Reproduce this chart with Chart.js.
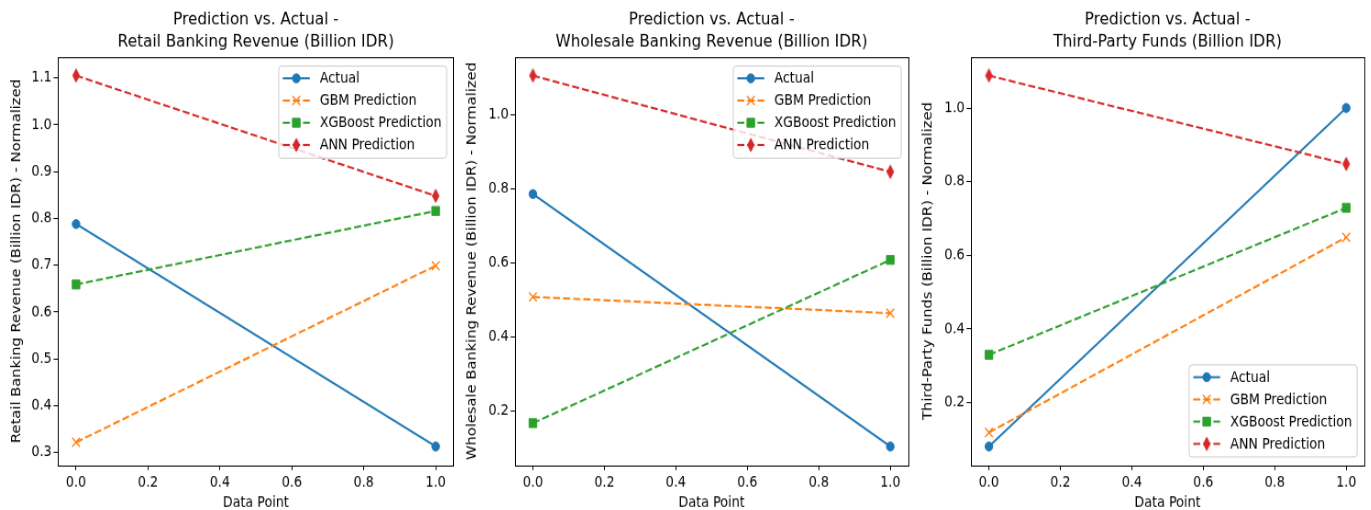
<!DOCTYPE html>
<html><head><meta charset="utf-8">
<script src="https://cdn.jsdelivr.net/npm/chart.js@4.4.1/dist/chart.umd.min.js"></script>
<style>
html,body{margin:0;padding:0;background:#fff;}
#wrap{position:relative;width:1371px;height:510px;overflow:hidden;}
.panel{position:absolute;top:0;height:482px;transform-origin:0 0;transform:scale(0.917,1.058);}
canvas{display:block;}
</style></head><body>
<div id="wrap">
<div class="panel" style="left:0px;width:502px"><canvas id="c1" width="502" height="482"></canvas></div>
<div class="panel" style="left:460px;width:496px"><canvas id="c2" width="496" height="482"></canvas></div>
<div class="panel" style="left:915px;width:497px"><canvas id="c3" width="497" height="482"></canvas></div>
</div>
<script>
// ---- data ----
const dataPoints = [0, 1];
const xTicks = [0, 0.2, 0.4, 0.6, 0.8, 1.0];
const seriesNames = ['Actual', 'GBM Prediction', 'XGBoost Prediction', 'ANN Prediction'];

const retailActual = [0.788, 0.313];
const retailGBM = [0.322, 0.699];
const retailXGB = [0.659, 0.816];
const retailANN = [1.105, 0.848];
const retailYTicks = [0.3, 0.4, 0.5, 0.6, 0.7, 0.8, 0.9, 1.0, 1.1];

const wholesaleActual = [0.787, 0.105];
const wholesaleGBM = [0.509, 0.465];
const wholesaleXGB = [0.168, 0.609];
const wholesaleANN = [1.107, 0.847];
const wholesaleYTicks = [0.2, 0.4, 0.6, 0.8, 1.0];

const tpfActual = [0.081, 1.000];
const tpfGBM = [0.119, 0.649];
const tpfXGB = [0.330, 0.729];
const tpfANN = [1.088, 0.848];
const tpfYTicks = [0.2, 0.4, 0.6, 0.8, 1.0];

// ---- styling ----
const FONT = 'DejaVu Sans';
Chart.defaults.font.family = FONT;
Chart.defaults.color = '#000';

function thinDiamond(color) {
  const c = document.createElement('canvas');
  c.width = 10; c.height = 14;
  const g = c.getContext('2d');
  g.beginPath();
  g.moveTo(5, 0.8); g.lineTo(8.6, 7); g.lineTo(5, 13.2); g.lineTo(1.4, 7); g.closePath();
  g.fillStyle = color; g.strokeStyle = color; g.lineWidth = 1;
  g.fill(); g.stroke();
  return c;
}
const DASH = [7.7, 3.3];
const styles = [
  {color: '#1f77b4', dash: [], pointStyle: 'circle', radius: 4.2, bw: 1},
  {color: '#ff7f0e', dash: DASH, pointStyle: 'crossRot', radius: 5.9, bw: 1.4},
  {color: '#2ca02c', dash: DASH, pointStyle: 'rect', radius: 5.9, bw: 1},
  {color: '#d62728', dash: DASH, pointStyle: thinDiamond('#d62728'), radius: 6, bw: 1}
];

const framePlugin = {
  id: 'mplFrame',
  afterDatasetsDraw(chart) {
    const a = chart.chartArea, ctx = chart.ctx;
    ctx.save();
    ctx.strokeStyle = '#000'; ctx.lineWidth = 1;
    ctx.strokeRect(Math.round(a.left) + 0.5, Math.round(a.top) + 0.5,
      Math.round(a.right - a.left), Math.round(a.bottom - a.top));
    ctx.restore();
  }
};

const legendPlugin = {
  id: 'mplLegend',
  afterDraw(chart, args, opts) {
    const ctx = chart.ctx, a = chart.chartArea;
    ctx.save();
    ctx.font = '13.9px "' + FONT + '"';
    let tw = 0;
    seriesNames.forEach(n => { tw = Math.max(tw, ctx.measureText(n).width); });
    const rowH = 21;
    const padL = 4.4, lineLen = 29.4, gap = 10.9, padR = 5.5;
    const w = padL + lineLen + gap + tw + padR;
    const h = 11.6 + rowH * 3 + 12.4;
    const right = a.right - 7.6;
    const left = right - w;
    const top = opts.loc === 'lower right' ? a.bottom - 7.6 - h : a.top + 8.5;
    const r = 3;
    ctx.beginPath();
    ctx.moveTo(left + r, top);
    ctx.lineTo(left + w - r, top); ctx.arcTo(left + w, top, left + w, top + r, r);
    ctx.lineTo(left + w, top + h - r); ctx.arcTo(left + w, top + h, left + w - r, top + h, r);
    ctx.lineTo(left + r, top + h); ctx.arcTo(left, top + h, left, top + h - r, r);
    ctx.lineTo(left, top + r); ctx.arcTo(left, top, left + r, top, r);
    ctx.closePath();
    ctx.fillStyle = 'rgba(255,255,255,0.8)';
    ctx.fill();
    ctx.strokeStyle = '#cccccc'; ctx.lineWidth = 1;
    ctx.stroke();
    seriesNames.forEach((n, i) => {
      const s = styles[i];
      const y = top + 11.6 + i * rowH;
      const x0 = left + padL;
      ctx.strokeStyle = s.color; ctx.lineWidth = 2;
      ctx.setLineDash(s.dash);
      ctx.beginPath(); ctx.moveTo(x0, y); ctx.lineTo(x0 + lineLen, y); ctx.stroke();
      ctx.setLineDash([]);
      ctx.fillStyle = s.color; ctx.strokeStyle = s.color; ctx.lineWidth = s.bw;
      Chart.helpers.drawPoint(ctx, {pointStyle: s.pointStyle, radius: s.radius, borderWidth: s.bw, rotation: 0}, x0 + lineLen / 2, y);
      ctx.fillStyle = '#000';
      ctx.textBaseline = 'middle'; ctx.textAlign = 'left';
      ctx.fillText(n, x0 + lineLen + gap, y + 0.5);
    });
    ctx.restore();
  }
};

function makeChart(id, cfg) {
  const all = cfg.series.flat();
  const lo = Math.min(...all), hi = Math.max(...all);
  const m = (hi - lo) * 0.05;
  const datasets = cfg.series.map((vals, i) => {
    const s = styles[i];
    return {
      label: seriesNames[i],
      data: dataPoints.map((x, j) => ({x: x, y: vals[j]})),
      borderColor: s.color,
      backgroundColor: s.color,
      borderWidth: 2,
      borderDash: s.dash,
      pointStyle: s.pointStyle,
      pointRadius: s.radius,
      pointHoverRadius: s.radius,
      pointBorderWidth: s.bw,
      pointBorderColor: s.color,
      pointBackgroundColor: s.color,
      tension: 0,
      fill: false,
      order: 3 - i
    };
  });
  return new Chart(document.getElementById(id), {
    type: 'line',
    data: {datasets},
    plugins: [framePlugin, legendPlugin],
    options: {
      responsive: false,
      animation: false,
      devicePixelRatio: 1,
      layout: {padding: {left: 0, right: cfg.rightPad, top: 0, bottom: 0}},
      plugins: {
        legend: {display: false},
        tooltip: {enabled: false},
        mplLegend: {loc: cfg.legendLoc},
        title: {
          display: true, text: cfg.title, fullSize: false, color: '#000',
          font: {family: FONT, size: 16.67, weight: 'normal', lineHeight: 1.26},
          padding: {top: 8.4, bottom: 3.5}
        }
      },
      scales: {
        x: {
          type: 'linear', min: -0.05, max: 1.05,
          afterBuildTicks: s => { s.ticks = xTicks.map(v => ({value: v})); },
          afterFit: s => { s.height = 42.5; },
          ticks: {callback: v => Number(v).toFixed(1), font: {size: 13.9}, color: '#000', padding: 4, maxRotation: 0, autoSkip: false},
          grid: {drawOnChartArea: false, drawTicks: true, tickLength: 4.9, color: '#000', lineWidth: 1},
          border: {display: false},
          title: {display: true, text: 'Data Point', color: '#000', font: {size: 13.9, lineHeight: 0.95}, padding: {top: 0, bottom: 0}}
        },
        y: {
          type: 'linear', min: lo - m, max: hi + m,
          afterBuildTicks: s => { s.ticks = cfg.yTicks.map(v => ({value: v})); },
          afterFit: s => { s.width = cfg.yWidth; },
          ticks: {callback: v => Number(v).toFixed(1), font: {size: 13.9}, color: '#000', padding: 2, autoSkip: false},
          grid: {drawOnChartArea: false, drawTicks: true, tickLength: 4.9, color: '#000', lineWidth: 1},
          border: {display: false},
          title: {display: true, text: cfg.yTitle, color: '#000', font: {size: 13.9, lineHeight: 1.2}, padding: {top: cfg.yTitlePad, bottom: 0}}
        }
      }
    }
  });
}

makeChart('c1', {
  title: ['Prediction vs. Actual -', 'Retail Banking Revenue (Billion IDR)'],
  yTitle: 'Retail Banking Revenue (Billion IDR) - Normalized',
  series: [retailActual, retailGBM, retailXGB, retailANN],
  yTicks: retailYTicks, yWidth: 63.3, yTitlePad: 10, rightPad: 6.9, legendLoc: 'upper right'
});
makeChart('c2', {
  title: ['Prediction vs. Actual -', 'Wholesale Banking Revenue (Billion IDR)'],
  yTitle: 'Wholesale Banking Revenue (Billion IDR) - Normalized',
  series: [wholesaleActual, wholesaleGBM, wholesaleXGB, wholesaleANN],
  yTicks: wholesaleYTicks, yWidth: 60, yTitlePad: 5.1, rightPad: 4.7, legendLoc: 'upper right'
});
makeChart('c3', {
  title: ['Prediction vs. Actual -', 'Third-Party Funds (Billion IDR)'],
  yTitle: 'Third-Party Funds (Billion IDR) - Normalized',
  series: [tpfActual, tpfGBM, tpfXGB, tpfANN],
  yTicks: tpfYTicks, yWidth: 61.1, yTitlePad: 6.2, rightPad: 4.4, legendLoc: 'lower right'
});
</script>
</body></html>
